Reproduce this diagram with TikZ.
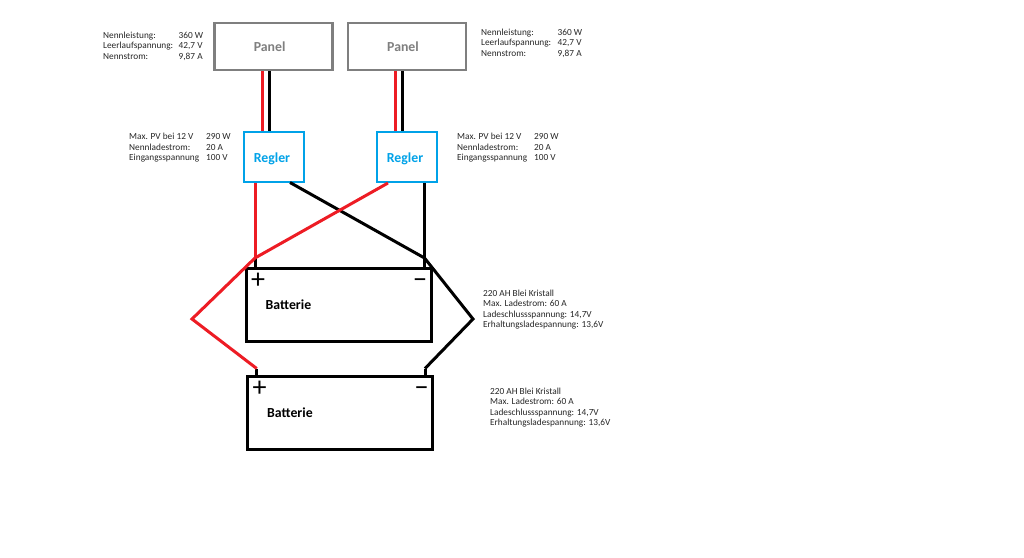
\documentclass[tikz,border=0pt]{standalone}
\usepackage{fontspec}
\setmainfont{Carlito}
\definecolor{pgray}{HTML}{7F7F7F}
\definecolor{rblue}{HTML}{00A2E8}
\definecolor{wred}{HTML}{ED1C24}
\definecolor{txt}{HTML}{262626}
\tikzset{
  panelbox/.style={draw=pgray,line width=2.2pt,fill=white,inner sep=0pt,minimum width=118pt,minimum height=47pt,text=pgray,font=\fontsize{13.8pt}{15pt}\selectfont\bfseries},
  reglerbox/.style={draw=rblue,line width=2.2pt,fill=white,inner sep=0pt,minimum width=60pt,minimum height=50pt,text=rblue,text height=12pt,text depth=1.6pt,font=\fontsize{13.8pt}{15pt}\selectfont\bfseries},
  battbox/.style={draw=black,line width=3pt,inner sep=0pt,minimum width=185pt,minimum height=73pt},
  info/.style={anchor=north west,inner sep=0pt,text=txt,font=\fontsize{9.3pt}{10.5pt}\selectfont,align=left},
  batlabel/.style={anchor=west,inner sep=0pt,font=\fontsize{13.8pt}{15pt}\selectfont\bfseries,text=black},
  sign/.style={inner sep=0pt,font=\fontsize{28pt}{28pt}\selectfont,text=black},
  redwire/.style={draw=wred,line width=3pt,line join=miter},
  blackwire/.style={draw=black,line width=3pt,line join=miter},
  post/.style={draw=black,line width=3pt}
}
\newcommand{\infotab}[6]{\begin{tabular}{@{}l@{}l@{}}#1&#2\\#3&#4\\#5&#6\end{tabular}}
\begin{document}
\begin{tikzpicture}[x=1pt,y=-1pt]
\useasboundingbox (0,0) rectangle (1024,557);
\renewcommand{\arraystretch}{1}
\setlength{\tabcolsep}{0pt}
% boxes
\node[panelbox]  (panelA)  at (273.4,46.4) {Panel\hspace*{7.5pt}};
\node[panelbox]  (panelB)  at (407,46.4) {Panel\hspace*{8pt}};
\node[reglerbox] (reglerA) at (273.8,157.2) {Regler\hspace*{3.6pt}};
\node[reglerbox] (reglerB) at (407.2,157.2) {Regler\hspace*{4.4pt}};
\node[battbox]   (battA)   at (339,304.5) {};
\node[battbox]   (battB)   at (340.4,412.5) {};
% terminals
\coordinate (aPlus)  at (255,258);
\coordinate (aMinus) at (424.5,258);
\coordinate (bPlus)  at (256.7,368.5);
\coordinate (bMinus) at (425,368.5);
\coordinate (leftTip)  at (192,319);
\coordinate (rightTip) at (473,319);
% wires panel to regler
\coordinate (rA) at (262,0);
\coordinate (kA) at (269.5,0);
\coordinate (rB) at (395,0);
\coordinate (kB) at (402.5,0);
\draw[redwire]   (rA |- panelA.south) -- (rA |- reglerA.north);
\draw[blackwire] (kA |- panelA.south) -- (kA |- reglerA.north);
\draw[redwire]   (rB |- panelB.south) -- (rB |- reglerB.north);
\draw[blackwire] (kB |- panelB.south) -- (kB |- reglerB.north);
% battery posts
\draw[post] (aPlus) -- (aPlus |- battA.north);
\draw[post] (aMinus) -- (aMinus |- battA.north);
\draw[post] (bPlus) -- (bPlus |- battB.north);
\draw[post] (bMinus) -- (bMinus |- battB.north);
% wires regler to battery
\coordinate (crossBlackStart) at (290,182.5);
\coordinate (crossRedStart) at (388,183);
\draw[blackwire] (crossBlackStart) -- (aMinus) -- (rightTip) -- (bMinus);
\draw[blackwire] (aMinus |- reglerB.south) -- (aMinus);
\draw[redwire] (aPlus |- reglerA.south) -- (aPlus);
\draw[redwire] (crossRedStart) -- (aPlus) -- (leftTip) -- (bPlus);
% signs
\node[sign] (plusA)  at (258,280.5) {+};
\node[sign] (minusA) at (420,280.5) {\vphantom{+}−};
\node[sign] (plusB)  at (259.5,388.5) {+};
\node[sign] (minusB) at (421.5,388.5) {\vphantom{+}−};
\node[batlabel] (labA) at (265.5,304.5) {Batterie};
\node[batlabel] (labB) at (267,412.5) {Batterie};
% info
\node[info] (infoPanelA) at (103,30.5) {\infotab{\makebox[72pt][l]{Nennleistung:}}{360 W}{\makebox[75pt][l]{Leerlaufspannung:}}{42,7 V}{\makebox[75.5pt][l]{Nennstrom:}}{9,87 A}};
\node[info] (infoPanelB) at (481,27.5) {\infotab{\makebox[72.5pt][l]{Nennleistung:}}{360 W}{\makebox[75pt][l]{Leerlaufspannung:}}{42,7 V}{\makebox[76.5pt][l]{Nennstrom:}}{9,87 A}};
\node[info] (infoReglerA) at (129,132) {\infotab{\makebox[77pt][l]{Max. PV bei 12 V}}{290 W}{\makebox[77pt][l]{Nennladestrom:}}{20 A}{\makebox[77pt][l]{Eingangsspannung}}{100 V}};
\node[info] (infoReglerB) at (457,132) {\infotab{\makebox[77pt][l]{Max. PV bei 12 V}}{290 W}{\makebox[77pt][l]{Nennladestrom:}}{20 A}{\makebox[77pt][l]{Eingangsspannung}}{100 V}};
\node[info] (infoBattA) at (483,289.5) {220 AH Blei Kristall\\Max. Ladestrom: 60 A\\Ladeschlussspannung: 14,7V\\Erhaltungsladespannung: 13,6V};
\node[info] (infoBattB) at (490,387.5) {220 AH Blei Kristall\\Max. Ladestrom: 60 A\\Ladeschlussspannung: 14,7V\\Erhaltungsladespannung: 13,6V};
\end{tikzpicture}
\end{document}
